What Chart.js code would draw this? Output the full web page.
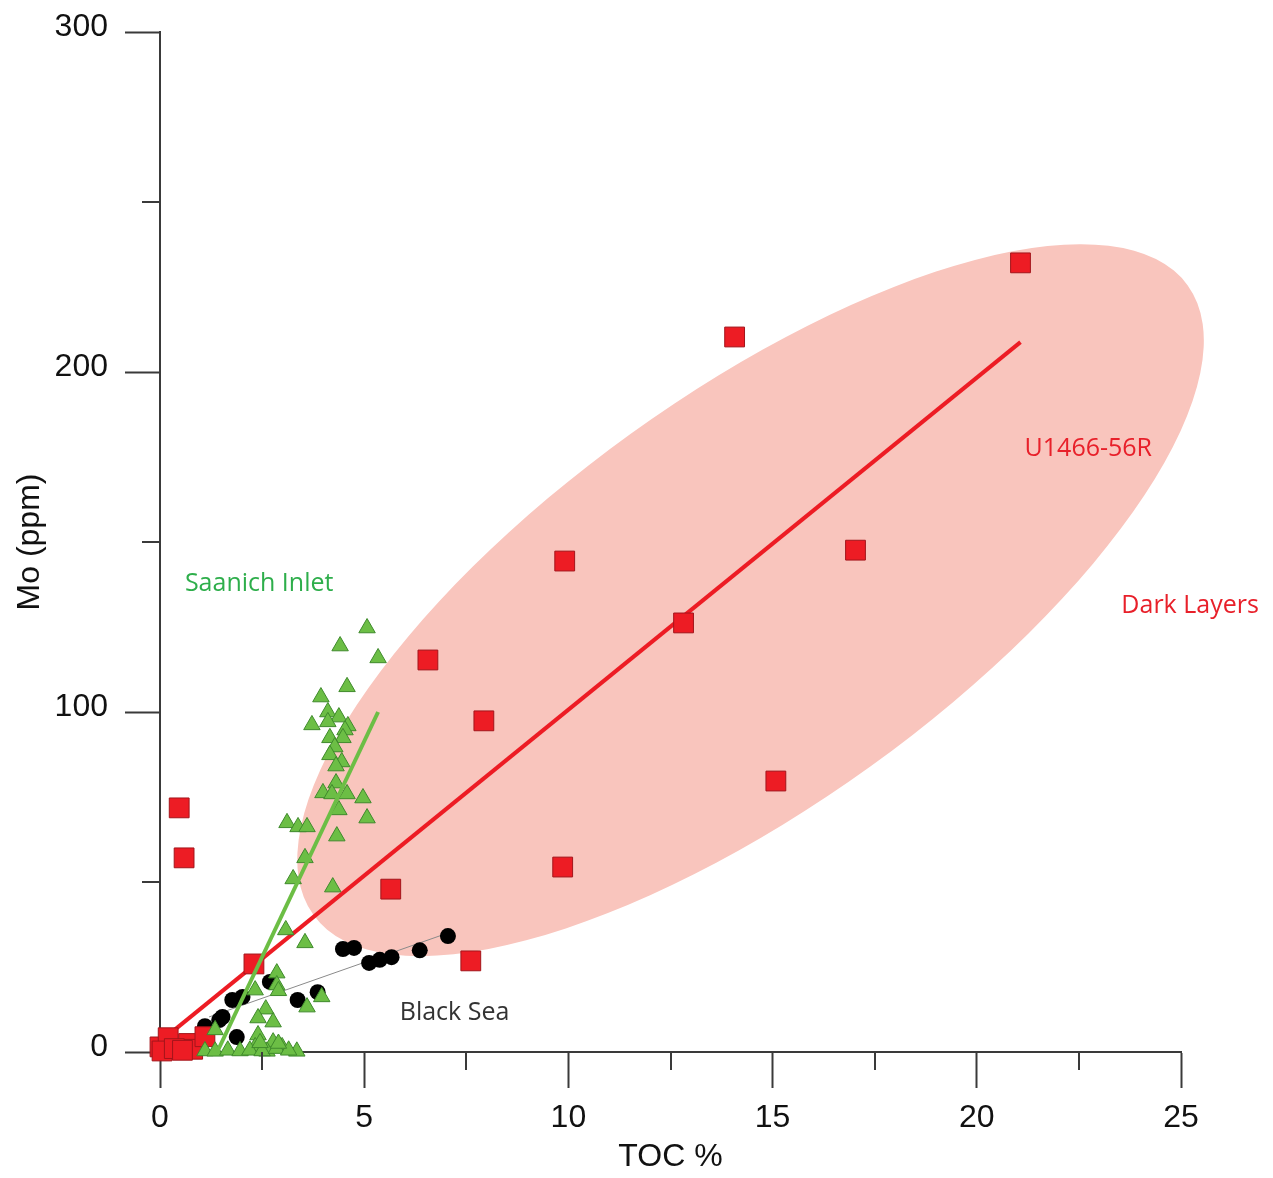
<!DOCTYPE html>
<html>
<head>
<meta charset="utf-8">
<title>Mo vs TOC</title>
<script src="https://cdn.jsdelivr.net/npm/chart.js"></script>
<style>
  body { margin: 0; background: #fff; }
  #wrap { width: 1273px; height: 1178px; }
</style>
</head>
<body>
<div id="wrap"><canvas id="chart" width="1273" height="1178"></canvas></div>
<script>
// Saanich Inlet (green triangles)
var saanichToc = [5.07, 4.41, 5.34, 4.58, 3.94, 4.11, 4.38, 3.72, 4.11, 4.60, 4.53, 4.48, 4.16, 4.28, 4.16,
    4.45, 4.31, 4.31, 3.99, 4.21, 4.58, 4.97, 4.38, 5.07, 3.11, 3.38, 3.60, 4.33, 3.55, 3.26, 4.23,
    3.08, 3.55, 2.86, 2.33, 2.86, 2.90, 3.96, 3.60, 2.59, 2.40, 2.77, 2.40, 1.35, 2.33, 2.77, 2.99,
    3.35, 2.62, 1.10, 1.35, 1.66, 1.96, 2.20, 2.50, 2.85, 3.15, 2.45, 2.90];
var saanichMo = [124.7, 119.4, 115.9, 107.4, 104.4, 100.0, 98.5, 96.2, 97.1, 95.9, 94.7, 92.4, 92.4, 89.7, 87.4,
    85.3, 84.1, 79.1, 76.2, 75.9, 75.9, 74.7, 71.2, 68.8, 67.4, 66.2, 66.2, 63.5, 57.1, 50.9, 48.5,
    35.9, 32.1, 23.2, 18.2, 19.7, 18.0, 16.2, 13.2, 12.6, 10.0, 8.8, 5.0, 6.5, 1.5, 2.9, 1.5,
    0.2, 0.2, 0.3, 0.2, 0.5, 0.3, 0.5, 0.3, 1.0, 0.5, 2.7, 2.5];

// Black Sea (black circles)
var blackSeaToc = [1.10, 1.45, 1.53, 1.88, 1.77, 2.02, 2.69, 3.37, 3.86, 4.48, 4.75, 5.12, 5.38, 5.67, 6.36, 7.05];
var blackSeaMo = [7.6, 9.4, 10.3, 4.4, 15.3, 16.2, 20.6, 15.3, 17.6, 30.3, 30.6, 26.2, 27.1, 27.9, 29.9, 34.1];

// U1466-56R dark layers (red squares)
var darkToc = [21.07, 14.07, 9.91, 17.03, 12.82, 6.56, 7.93, 15.08, 9.86, 5.65, 7.61, 2.30, 0.47, 0.59,
    0.00, 0.20, 0.05, 0.70, 0.80, 1.10, 0.35, 0.55];
var darkMo = [232.1, 210.3, 144.4, 147.6, 126.2, 115.3, 97.4, 79.7, 54.4, 47.9, 26.8, 25.9, 71.8, 57.1,
    1.5, 4.2, 0.3, 2.5, 0.8, 4.5, 1.0, 0.5];

// Trend lines (two end points each)
var darkTrendToc = [0.1, 21.07];
var darkTrendMo = [4, 208.8];
var saanichTrendToc = [1.4, 5.34];
var saanichTrendMo = [0, 100];
var blackSeaTrendToc = [1.2, 7.05];
var blackSeaTrendMo = [10.3, 35.0];

// Axis ticks
var xTicks = [0, 5, 10, 15, 20, 25];
var xMinorTicks = [2.5, 7.5, 12.5, 17.5, 22.5];
var yTicks = [0, 100, 200, 300];
var yMinorTicks = [50, 150, 250];

// Highlight ellipse around the dark layers (centre in data units, radii in TOC units)
var ellipseCenter = { x: 14.46, y: 132.9 };
var ellipseRadii = { a: 13.19, b: 5.02 };
var ellipseAngle = -35.75;

// Text labels (left edge, vertical middle, in data units)
var labels = [
    { text: 'Saanich Inlet', x: 0.61, y: 137.6, color: '#2eae4b' },
    { text: 'U1466-56R', x: 21.17, y: 177.4, color: '#e8202a' },
    { text: 'Dark Layers', x: 23.54, y: 131.2, color: '#e8202a' },
    { text: 'Black Sea', x: 5.87, y: 11.5, color: '#333333' }
];

function toPoints(xs, ys) {
    var pts = [];
    for (var i = 0; i < xs.length; i++) {
        pts.push({ x: xs[i], y: ys[i] });
    }
    return pts;
}

var axisFont = { family: '"Liberation Sans", Arial, sans-serif', size: 32 };
var axisColor = '#3a3a3a';

// Draws the pink ellipse behind everything
var ellipsePlugin = {
    id: 'ellipse',
    beforeDatasetsDraw: function (chart) {
        var ctx = chart.ctx;
        var xs = chart.scales.x;
        var ys = chart.scales.y;
        var cx = xs.getPixelForValue(ellipseCenter.x);
        var cy = ys.getPixelForValue(ellipseCenter.y);
        var unit = xs.getPixelForValue(1) - xs.getPixelForValue(0);
        ctx.save();
        ctx.beginPath();
        ctx.ellipse(cx, cy, ellipseRadii.a * unit, ellipseRadii.b * unit, ellipseAngle * Math.PI / 180, 0, Math.PI * 2);
        ctx.fillStyle = '#f9c5bd';
        ctx.fill();
        ctx.restore();
    }
};

// Short minor ticks and the text labels
var extrasPlugin = {
    id: 'extras',
    afterDraw: function (chart) {
        var ctx = chart.ctx;
        var xs = chart.scales.x;
        var ys = chart.scales.y;
        var area = chart.chartArea;
        ctx.save();
        ctx.strokeStyle = axisColor;
        ctx.lineWidth = 2;
        xMinorTicks.forEach(function (v) {
            var px = Math.round(xs.getPixelForValue(v));
            ctx.beginPath();
            ctx.moveTo(px, area.bottom);
            ctx.lineTo(px, area.bottom + 18);
            ctx.stroke();
        });
        yMinorTicks.forEach(function (v) {
            var py = Math.round(ys.getPixelForValue(v));
            ctx.beginPath();
            ctx.moveTo(area.left, py);
            ctx.lineTo(area.left - 18, py);
            ctx.stroke();
        });

        ctx.font = '25px "Open Sans", "Noto Sans", sans-serif';
        ctx.textBaseline = 'middle';
        ctx.textAlign = 'left';
        labels.forEach(function (l) {
            ctx.fillStyle = l.color;
            ctx.fillText(l.text, xs.getPixelForValue(l.x), ys.getPixelForValue(l.y));
        });
        ctx.restore();
    }
};

var chart = new Chart(document.getElementById('chart').getContext('2d'), {
    type: 'scatter',
    data: {
        datasets: [
            {
                label: 'Saanich trend',
                type: 'line',
                data: toPoints(saanichTrendToc, saanichTrendMo),
                borderColor: '#6cbe45',
                borderWidth: 4,
                pointRadius: 0,
                fill: false,
                clip: false,
                order: 0
            },
            {
                label: 'Saanich Inlet',
                data: toPoints(saanichToc, saanichMo),
                pointStyle: 'triangle',
                pointRadius: 9.5,
                backgroundColor: '#6cbe45',
                borderColor: '#3f8a2c',
                borderWidth: 1,
                clip: false,
                order: 1
            },
            {
                label: 'Dark Layers',
                data: toPoints(darkToc, darkMo),
                pointStyle: 'rect',
                pointRadius: 14,
                backgroundColor: '#ed1c24',
                borderColor: '#a3151b',
                borderWidth: 1,
                clip: false,
                order: 2
            },
            {
                label: 'Dark trend',
                type: 'line',
                data: toPoints(darkTrendToc, darkTrendMo),
                borderColor: '#ed1c24',
                borderWidth: 4,
                pointRadius: 0,
                fill: false,
                clip: false,
                order: 3
            },
            {
                label: 'Black Sea',
                data: toPoints(blackSeaToc, blackSeaMo),
                pointStyle: 'circle',
                pointRadius: 8,
                backgroundColor: '#000000',
                borderColor: '#000000',
                borderWidth: 0,
                clip: false,
                order: 4
            },
            {
                label: 'Black Sea trend',
                type: 'line',
                data: toPoints(blackSeaTrendToc, blackSeaTrendMo),
                borderColor: '#8a8a8a',
                borderWidth: 1,
                pointRadius: 0,
                fill: false,
                clip: false,
                order: 5
            }
        ]
    },
    options: {
        responsive: false,
        animation: false,
        layout: { padding: { top: 32, right: 92, left: 0, bottom: 0 } },
        plugins: {
            legend: { display: false },
            tooltip: { enabled: false }
        },
        scales: {
            x: {
                type: 'linear',
                min: 0,
                max: 25,
                afterBuildTicks: function (scale) {
                    scale.ticks = xTicks.map(function (v) { return { value: v }; });
                },
                ticks: { font: axisFont, color: '#111', padding: 11 },
                grid: { drawOnChartArea: false, drawTicks: true, tickLength: 36, tickColor: axisColor, tickWidth: 2 },
                border: { color: axisColor, width: 2 },
                title: { display: true, text: 'TOC %', font: axisFont, color: '#111', padding: { top: 0, bottom: 2 } },
                afterFit: function (scale) {
                    scale.height = 126;
                    scale.paddingLeft = 0;
                    scale.paddingRight = 0;
                }
            },
            y: {
                type: 'linear',
                min: 0,
                max: 300,
                afterBuildTicks: function (scale) {
                    scale.ticks = yTicks.map(function (v) { return { value: v }; });
                },
                ticks: { font: axisFont, color: '#111', padding: 17, labelOffset: -5 },
                grid: { drawOnChartArea: false, drawTicks: true, tickLength: 35, tickColor: axisColor, tickWidth: 2 },
                border: { color: axisColor, width: 2 },
                title: { display: true, text: 'Mo (ppm)', font: axisFont, color: '#111', padding: { top: 11, bottom: 0 } },
                afterFit: function (scale) {
                    scale.width = 160;
                    scale.paddingTop = 0;
                    scale.paddingBottom = 0;
                }
            }
        }
    },
    plugins: [ellipsePlugin, extrasPlugin]
});
</script>
</body>
</html>
